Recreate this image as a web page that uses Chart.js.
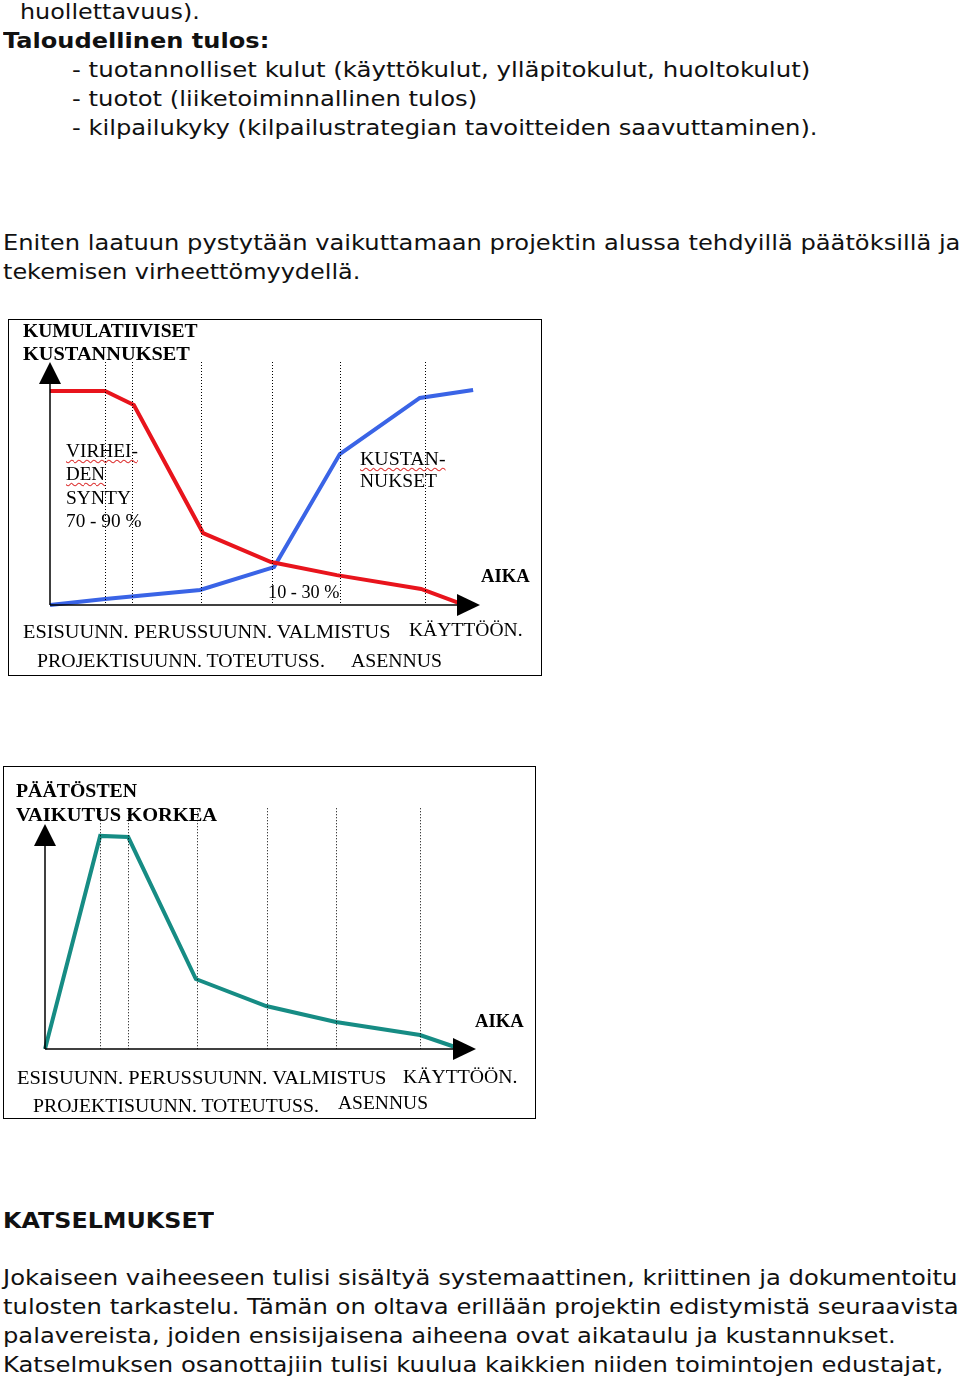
<!DOCTYPE html>
<html><head><meta charset="utf-8">
<script src="https://cdn.jsdelivr.net/npm/chart.js@4"></script>
<style>
body{margin:0;background:#fff;width:960px;height:1380px;position:relative;overflow:hidden;font-family:"DejaVu Sans",Verdana,sans-serif;}
.t{position:absolute;white-space:nowrap;font-size:22px;line-height:28px;height:28px;color:#111;transform-origin:0 50%;}
.b{font-weight:bold}
.c{position:absolute;white-space:nowrap;font-family:"Liberation Serif","DejaVu Serif",serif;color:#000;transform-origin:0 50%;line-height:22px;height:22px;}
.h{font-weight:bold;font-size:19px}
.r{font-size:18px}
.w{text-decoration:underline wavy #d33;text-decoration-thickness:1px;text-underline-offset:2px}
.box{position:absolute;border:1px solid #000;box-sizing:border-box;background:#fff}
canvas{position:absolute;left:0;top:0}
</style></head><body>
<div class="box" id="b1" style="left:8px;top:319px;width:534px;height:357px"><canvas id="c1"></canvas></div>
<div class="box" id="b2" style="left:3px;top:766px;width:533px;height:353px"><canvas id="c2"></canvas></div>
<div id="txt"></div>
<script>
// Chart 1 data (x: time progress 0-100, y: relative level 0-100)
const redX=[0,12.8,19.5,35.6,51.4,66.7,86.3,95.8];
const redY=[88.1,88.1,82.3,29.6,17.7,12.3,6.6,0.4];
const blueX=[0,12.8,34.9,52.1,67.4,86.0,98.4];
const blueY=[0,2.5,6.2,15.6,62.1,85.2,88.5];
const phases1=[12.8,19.1,35.1,51.6,67.4,87.2];
// Chart 2 data
const tealX=[0,12.8,19.3,35.0,51.3,67.5,87.0,96.5];
const tealY=[0,94.7,94.2,31.1,19.1,12.0,6.2,0];
const phases2=[12.8,19.3,35.3,51.5,67.5,87.0];

const pts=(xs,ys)=>xs.map((x,i)=>({x:x,y:ys[i]}));

function deco(phases,dashTop){
 return {id:'deco',afterDatasetsDraw(ch){
  const c=ch.ctx,xs=ch.scales.x,ys=ch.scales.y;
  const x0=xs.getPixelForValue(0),y0=ys.getPixelForValue(0);
  c.save();
  c.strokeStyle='#000';c.lineWidth=1;c.setLineDash([1,2]);
  phases.forEach(p=>{const x=Math.round(xs.getPixelForValue(p))+0.5;c.beginPath();c.moveTo(x,ys.getPixelForValue(dashTop));c.lineTo(x,y0);c.stroke();});
  c.setLineDash([]);c.lineWidth=1.5;
  const yt=ys.getPixelForValue(100),xr=xs.getPixelForValue(100);
  c.beginPath();c.moveTo(x0,y0);c.lineTo(x0,yt+20);c.stroke();
  c.beginPath();c.moveTo(x0,y0);c.lineTo(xr-20,y0);c.stroke();
  c.fillStyle='#000';
  c.beginPath();c.moveTo(x0,yt);c.lineTo(x0-11,yt+22);c.lineTo(x0+11,yt+22);c.closePath();c.fill();
  c.beginPath();c.moveTo(xr,y0);c.lineTo(xr-23,y0-11);c.lineTo(xr-23,y0+11);c.closePath();c.fill();
  c.restore();
 }};
}
function make(id,datasets,pad,phases,dashTop){
 const cv=document.getElementById(id),bx=cv.parentElement;
 cv.width=bx.clientWidth;cv.height=bx.clientHeight;
 cv.style.width=cv.width+'px';cv.style.height=cv.height+'px';
 new Chart(cv,{type:'line',data:{datasets:datasets.map(d=>({data:d.data,borderColor:d.color,borderWidth:4,pointRadius:0,tension:0,fill:false,clip:false}))},
  options:{responsive:false,animation:false,events:[],layout:{padding:pad},
   plugins:{legend:{display:false},tooltip:{enabled:false}},
   scales:{x:{type:'linear',min:0,max:100,display:false},y:{min:0,max:100,display:false}}},
  plugins:[deco(phases,dashTop)]});
}
make('c1',[{data:pts(redX,redY),color:'#e8141c'},{data:pts(blueX,blueY),color:'#3a64e6'}],{left:41,right:61,top:42,bottom:70},phases1,100);
make('c2',[{data:pts(tealX,tealY),color:'#168c84'}],{left:41,right:59,top:57,bottom:69},phases2,107);

// text: [text, class, left, centerY, width]
const pageText=[
 ['huollettavuus).','t',20,12,180],
 ['Taloudellinen tulos:','t b',3,41,266],
 ['- tuotannolliset kulut (käyttökulut, ylläpitokulut, huoltokulut)','t',72,70,738],
 ['- tuotot (liiketoiminnallinen tulos)','t',72,99,405],
 ['- kilpailukyky (kilpailustrategian tavoitteiden saavuttaminen).','t',72,128,746],
 ['Eniten laatuun pystytään vaikuttamaan projektin alussa tehdyillä päätöksillä ja','t',3,243,957],
 ['tekemisen virheettömyydellä.','t',3,272,357],
 ['KATSELMUKSET','t b',3,1221,211],
 ['Jokaiseen vaiheeseen tulisi sisältyä systemaattinen, kriittinen ja dokumentoitu','t',3,1278,954],
 ['tulosten tarkastelu. Tämän on oltava erillään projektin edistymistä seuraavista','t',3,1307,955],
 ['palavereista, joiden ensisijaisena aiheena ovat aikataulu ja kustannukset.','t',3,1336,893],
 ['Katselmuksen osanottajiin tulisi kuulua kaikkien niiden toimintojen edustajat,','t',3,1365,940],
 ['KUMULATIIVISET','c h',23,331,175],
 ['KUSTANNUKSET','c h',23,354,167],
 ['VIRHEI-','c r w',66,451,72],
 ['DEN','c r w',66,474,39],
 ['SYNTY','c r',66,498,65],
 ['70 - 90 %','c r',66,521,76],
 ['KUSTAN-','c r w',360,459,86],
 ['NUKSET','c r',360,481,77],
 ['AIKA','c h',481,576,49],
 ['10 - 30 %','c r',268,592,72],
 ['ESISUUNN. PERUSSUUNN. VALMISTUS','c r',23,632,367],
 ['KÄYTTÖÖN.','c r',409,630,113],
 ['PROJEKTISUUNN. TOTEUTUSS.','c r',37,661,288],
 ['ASENNUS','c r',351,661,91],
 ['PÄÄTÖSTEN','c h',16,791,121],
 ['VAIKUTUS KORKEA','c h',16,815,201],
 ['AIKA','c h',475,1021,49],
 ['ESISUUNN. PERUSSUUNN. VALMISTUS','c r',17,1078,369],
 ['KÄYTTÖÖN.','c r',403,1077,114],
 ['PROJEKTISUUNN. TOTEUTUSS.','c r',33,1106,286],
 ['ASENNUS','c r',338,1103,90]
];
const host=document.getElementById('txt');
pageText.forEach(([s,cls,l,cy,w])=>{
 const d=document.createElement('div');d.className=cls;d.textContent=s;
 host.appendChild(d);
 const h=d.offsetHeight;d.style.left=l+'px';d.style.top=(cy-h/2)+'px';
 const aw=d.scrollWidth;d.style.transform='scaleX('+(w/aw)+')';
});
</script>
</body></html>
